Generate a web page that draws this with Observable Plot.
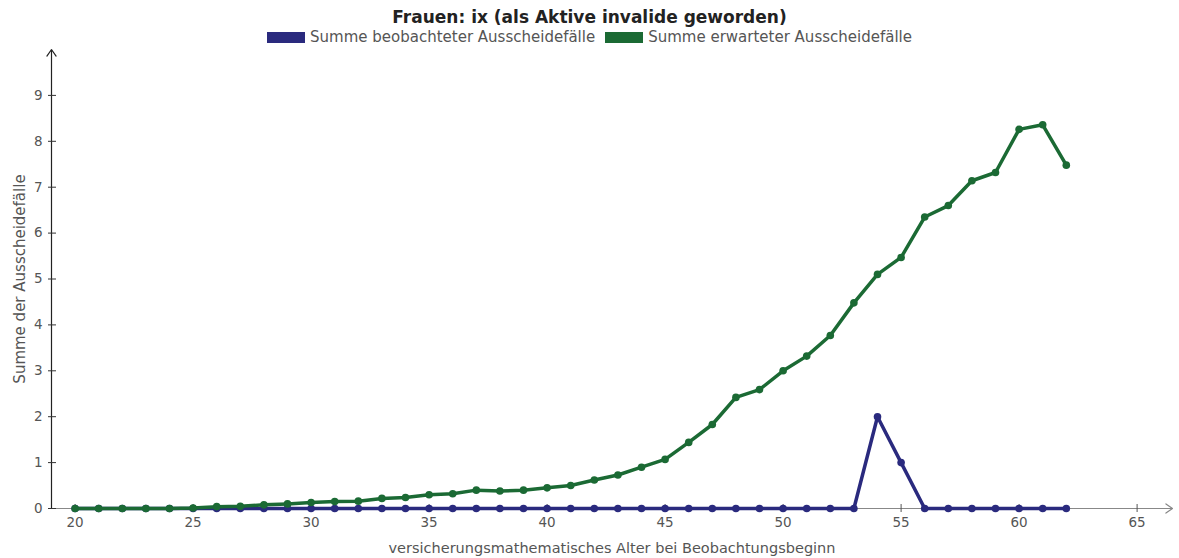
<!DOCTYPE html>
<html>
<head>
<meta charset="utf-8">
<script src="https://cdn.jsdelivr.net/npm/d3@7"></script>
<script src="https://cdn.jsdelivr.net/npm/@observablehq/plot@0.6"></script>
<style>
  body { margin: 0; background: #fff; font-family: "DejaVu Sans", sans-serif; }
  #header { height: 46px; width: 1179px; text-align: center; }
  #title { font-weight: bold; font-size: 17px; color: #222; padding-top: 7px; line-height: 20px; }
  #legend { display: flex; justify-content: center; align-items: center; gap: 10px; font-size: 15px; color: #555; line-height: 18px; margin-top: 1px; }
  .item { display: flex; align-items: center; gap: 5px; }
  .sw { width: 38px; height: 11px; display: inline-block; }
</style>
</head>
<body>
<div id="header">
  <div id="title">Frauen: ix (als Aktive invalide geworden)</div>
  <div id="legend"></div>
</div>
<div id="chart"></div>
<script>
const ages = [20,21,22,23,24,25,26,27,28,29,30,31,32,33,34,35,36,37,38,39,40,41,42,43,44,45,46,47,48,49,50,51,52,53,54,55,56,57,58,59,60,61,62];
const observed = [0,0,0,0,0,0,0,0,0,0,0,0,0,0,0,0,0,0,0,0,0,0,0,0,0,0,0,0,0,0,0,0,0,0,2,1,0,0,0,0,0,0,0];
const expected = [0,0,0,0,0,0.01,0.04,0.05,0.08,0.1,0.13,0.15,0.16,0.22,0.24,0.3,0.32,0.4,0.38,0.4,0.45,0.5,0.62,0.73,0.9,1.07,1.44,1.83,2.42,2.59,3.0,3.32,3.77,4.48,5.1,5.47,6.35,6.6,7.14,7.32,8.26,8.36,7.48];
const seriesNames = ["Summe beobachteter Ausscheidefälle", "Summe erwarteter Ausscheidefälle"];
const seriesColors = ["#2a2a7e", "#1b6a34"];
const xTicks = [20,25,30,35,40,45,50,55,60,65];
const yTicks = [0,1,2,3,4,5,6,7,8,9];
const xDomain = [19, 66.5];
const yDomain = [0, 10];
const xLabel = "versicherungsmathematisches Alter bei Beobachtungsbeginn";
const yLabel = "Summe der Ausscheidefälle";

// legend
const legend = document.getElementById("legend");
seriesNames.forEach((n, i) => {
  const it = document.createElement("span");
  it.className = "item";
  it.innerHTML = `<span class="sw" style="background:${seriesColors[i]}"></span><span>${n}</span>`;
  legend.appendChild(it);
});

const obsData = ages.map((a, i) => ({age: a, v: observed[i]}));
const expData = ages.map((a, i) => ({age: a, v: expected[i]}));

const chart = Plot.plot({
  width: 1179,
  height: 512,
  marginLeft: 51,
  marginRight: 7,
  marginTop: 3,
  marginBottom: 50,
  style: {fontFamily: "DejaVu Sans, sans-serif", fontSize: "13px", color: "#555", background: "#fff"},
  x: {domain: xDomain},
  y: {domain: yDomain},
  marks: [
    Plot.axisX(xTicks, {tickSize: 0, tickPadding: 9, fontSize: 13.5, color: "#555", label: null}),
    Plot.axisX({ticks: [], tickSize: 0, fontSize: 14.5, color: "#555", label: xLabel, labelAnchor: "center", labelOffset: 44, labelArrow: "none"}),
    Plot.axisY(yTicks, {tickSize: 0, tickPadding: 9, fontSize: 13.5, color: "#555", label: null}),
    Plot.axisY({ticks: [], tickSize: 0, fontSize: 15, color: "#555", label: yLabel, labelAnchor: "center", labelOffset: 37, labelArrow: "none"}),
    Plot.arrow([0], {x1: xDomain[0], y1: 0, x2: xDomain[1], y2: 0, stroke: "#888", strokeWidth: 1.2, headLength: 10, headAngle: 70, insetEnd: 0}),
    Plot.arrow([0], {x1: xDomain[0], y1: 0, x2: xDomain[0], y2: yDomain[1], stroke: "#222", strokeWidth: 1.2, headLength: 10, headAngle: 70, insetEnd: 0}),
    Plot.ruleX(xTicks, {x: d => d, y1: 0, y2: 0, insetTop: -4, insetBottom: -4, stroke: "#555"}),
    Plot.ruleY(yTicks, {y: d => d, x1: xDomain[0], x2: xDomain[0], insetLeft: -3, insetRight: -5, stroke: "#333"}),
    Plot.line(obsData, {x: "age", y: "v", stroke: seriesColors[0], strokeWidth: 3.5}),
    Plot.dot(obsData, {x: "age", y: "v", fill: seriesColors[0], r: 3.8}),
    Plot.line(expData, {x: "age", y: "v", stroke: seriesColors[1], strokeWidth: 3.5}),
    Plot.dot(expData, {x: "age", y: "v", fill: seriesColors[1], r: 3.8})
  ]
});
document.getElementById("chart").appendChild(chart);
</script>
</body>
</html>
